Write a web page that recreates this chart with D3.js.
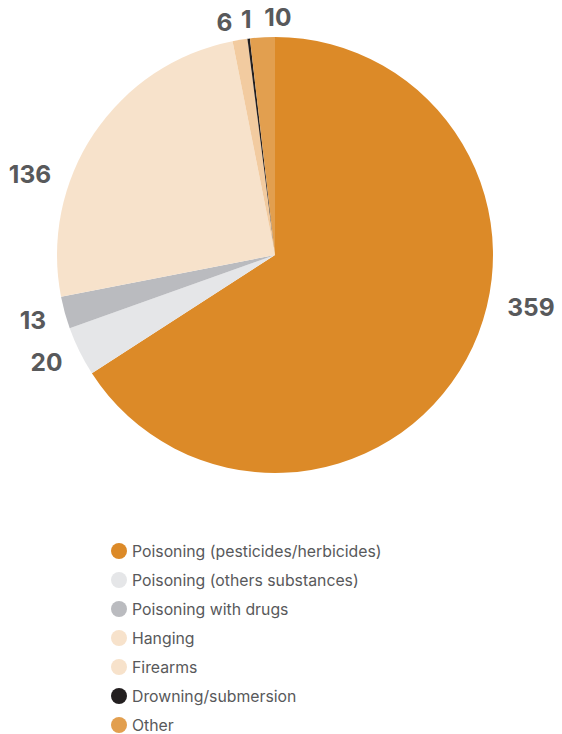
<!DOCTYPE html>
<html>
<head>
<meta charset="utf-8">
<script src="https://cdn.jsdelivr.net/npm/d3@7"></script>
<style>
  html, body { margin: 0; padding: 0; background: #fff; }
  svg { display: block; }
</style>
</head>
<body>
<svg id="chart" width="562" height="734"></svg>
<script>
// Suicide methods: counts per category
const categories = [
  "Poisoning (pesticides/herbicides)",
  "Poisoning (others substances)",
  "Poisoning with drugs",
  "Hanging",
  "Firearms",
  "Drowning/submersion",
  "Other"
];
const counts = [359, 20, 13, 136, 6, 1, 10];
const colors = ["#dc8a28", "#e5e6e8", "#babbbf", "#f7e2cb", "#f2cba0", "#231f20", "#e29f4f"];
const legendColors = ["#dc8a28", "#e5e6e8", "#babbbf", "#f7e2cb", "#f7e2cb", "#231f20", "#e29f4f"];

// label angle nudges (degrees) so labels sit clear of neighbours
const labelNudge = [-16, -0.5, -0.5, -14, -3, 0, 4];

const svg = d3.select("#chart");
const cx = 275, cy = 255, radius = 218, labelRadius = 238;

const data = categories.map((c, i) => ({ category: c, value: counts[i], color: colors[i], i }));

const pie = d3.pie().value(d => d.value).sort(null);
const arc = d3.arc().innerRadius(0).outerRadius(radius);
const arcs = pie(data);

const g = svg.append("g").attr("transform", `translate(${cx},${cy})`);

g.selectAll("path.slice")
  .data(arcs)
  .join("path")
  .attr("class", "slice")
  .attr("d", arc)
  .attr("fill", d => d.data.color);

// value labels around the pie
g.selectAll("text.value")
  .data(arcs)
  .join("text")
  .attr("class", "value")
  .each(function(d) {
    const mid = (d.startAngle + d.endAngle) / 2 + labelNudge[d.data.i] * Math.PI / 180;
    const s = Math.sin(mid), c = Math.cos(mid);
    const x = labelRadius * s, y = -labelRadius * c;
    const anchor = Math.abs(s) < 0.35 ? "middle" : (s > 0 ? "start" : "end");
    d3.select(this)
      .attr("x", x)
      .attr("y", y)
      .attr("text-anchor", anchor)
      .attr("dominant-baseline", "central");
  })
  .attr("font-family", "Inter, 'Open Sans', sans-serif")
  .attr("font-weight", 700)
  .attr("font-size", 24.5)
  .attr("fill", "#58595b")
  .text(d => d.data.value);

// legend
const legendY = d3.scalePoint().domain(d3.range(categories.length)).range([551, 725]);
const legend = svg.append("g");
const rows = legend.selectAll("g.row")
  .data(data)
  .join("g")
  .attr("class", "row")
  .attr("transform", d => `translate(119,${legendY(d.i)})`);

rows.append("circle")
  .attr("r", 8)
  .attr("fill", d => legendColors[d.i]);

rows.append("text")
  .attr("x", 13)
  .attr("y", 0)
  .attr("dominant-baseline", "central")
  .attr("font-family", "Inter, 'Open Sans', sans-serif")
  .attr("font-size", 15.8)
  .attr("fill", "#58595b")
  .text(d => d.category);
</script>
</body>
</html>
